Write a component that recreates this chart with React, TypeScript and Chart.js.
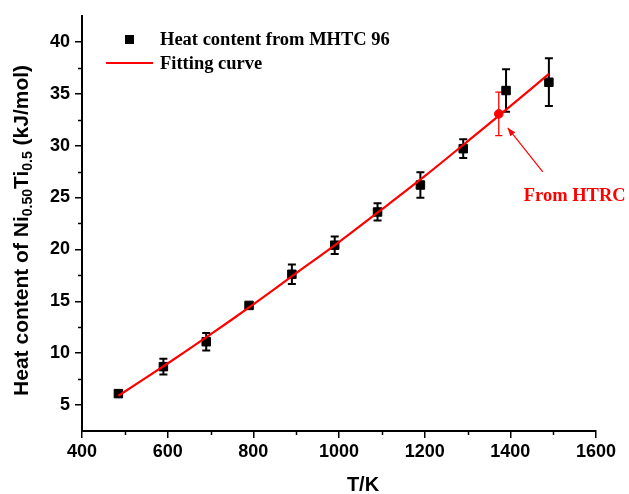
import React, { useEffect, useRef } from "react";
import { Chart, registerables } from "chart.js";
Chart.register(...registerables);

// Measured data (MHTC 96)
const temps = [485, 590, 690, 790, 890, 990, 1090, 1190, 1290, 1390, 1490];
const heat = [6.1, 8.7, 11.1, 14.6, 17.6, 20.4, 23.6, 26.2, 29.7, 35.3, 36.1];
const heatErr = [0.3, 0.75, 0.85, 0.2, 0.95, 0.85, 0.83, 1.23, 0.9, 2.05, 2.3];

// HTRC point
const htrcT = [1373];
const htrcH = [33.05];
const htrcErr = [2.1];

// Fitting curve
const fitT = [485, 600, 700, 800, 900, 1000, 1100, 1200, 1300, 1400, 1490];
const fitH = [5.9, 9.0, 11.8, 14.7, 17.7, 20.7, 23.85, 27.05, 30.4, 33.8, 36.9];

const xTicks = [400, 600, 800, 1000, 1200, 1400, 1600];
const yTicks = [5, 10, 15, 20, 25, 30, 35, 40];
const xMinor = [500, 700, 900, 1100, 1300, 1500];
const yMinor = [7.5, 12.5, 17.5, 22.5, 27.5, 32.5, 37.5];

const legendLabels = ["Heat content from MHTC 96", "Fitting curve"];
const annotationText = "From HTRC";

const SANS = "'Liberation Sans', Arial, sans-serif";
const SERIF = "'Liberation Serif', 'Times New Roman', serif";

export default function App() {
  const ref = useRef<HTMLCanvasElement>(null);

  useEffect(() => {
    document.body.style.margin = "0";
    const canvas = ref.current!;

    const plugin = {
      id: "custom",
      beforeDatasetsDraw(chart: any) {
        const { ctx, scales } = chart;
        const x = scales.x, y = scales.y;
        const drawErr = (xs: number[], ys: number[], es: number[], color: string, cap: number, lw: number) => {
          ctx.save();
          ctx.strokeStyle = color;
          ctx.lineWidth = lw;
          xs.forEach((t, i) => {
            const px = x.getPixelForValue(t);
            const top = y.getPixelForValue(ys[i] + es[i]);
            const bot = y.getPixelForValue(ys[i] - es[i]);
            ctx.beginPath();
            ctx.moveTo(px, top);
            ctx.lineTo(px, bot);
            ctx.moveTo(px - cap, top);
            ctx.lineTo(px + cap, top);
            ctx.moveTo(px - cap, bot);
            ctx.lineTo(px + cap, bot);
            ctx.stroke();
          });
          ctx.restore();
        };
        drawErr(temps, heat, heatErr, "#000", 4, 2);
        drawErr(htrcT, htrcH, htrcErr, "#ff0000", 3.5, 1.3);
      },
      afterDraw(chart: any) {
        const { ctx, scales, chartArea } = chart;
        const x = scales.x, y = scales.y;
        ctx.save();
        // minor ticks
        ctx.strokeStyle = "#000";
        ctx.lineWidth = 1.5;
        ctx.beginPath();
        xMinor.forEach((v) => {
          const px = Math.round(x.getPixelForValue(v)) + 0.5;
          ctx.moveTo(px, chartArea.bottom);
          ctx.lineTo(px, chartArea.bottom + 4);
        });
        yMinor.forEach((v) => {
          const py = Math.round(y.getPixelForValue(v)) + 0.5;
          ctx.moveTo(chartArea.left - 4, py);
          ctx.lineTo(chartArea.left, py);
        });
        ctx.stroke();

        // x title
        ctx.fillStyle = "#000";
        ctx.font = `bold 20px ${SANS}`;
        ctx.textAlign = "center";
        ctx.textBaseline = "middle";
        ctx.fillText("T/K", (chartArea.left + chartArea.right) / 2 + 24, 485);

        // y title with subscripts
        const parts: [string, boolean][] = [
          ["Heat content of Ni", false],
          ["0.50", true],
          ["Ti", false],
          ["0.5", true],
          [" (kJ/mol)", false],
        ];
        const bigFont = `bold 21px ${SANS}`;
        const smallFont = `bold 14px ${SANS}`;
        let total = 0;
        parts.forEach(([t, sub]) => {
          ctx.font = sub ? smallFont : bigFont;
          total += ctx.measureText(t).width;
        });
        ctx.save();
        ctx.translate(22, (chartArea.top + chartArea.bottom) / 2 + 7);
        ctx.rotate(-Math.PI / 2);
        ctx.textAlign = "left";
        ctx.textBaseline = "middle";
        let cx = -total / 2;
        parts.forEach(([t, sub]) => {
          ctx.font = sub ? smallFont : bigFont;
          ctx.fillText(t, cx, sub ? 6 : 0);
          cx += ctx.measureText(t).width;
        });
        ctx.restore();

        // legend
        const lx = chartArea.left;
        ctx.fillStyle = "#000";
        ctx.fillRect(lx + 43, 35, 9, 9);
        ctx.strokeStyle = "#ff0000";
        ctx.lineWidth = 2;
        ctx.beginPath();
        ctx.moveTo(lx + 24, 63);
        ctx.lineTo(lx + 71, 63);
        ctx.stroke();
        ctx.font = `bold 18.5px ${SERIF}`;
        ctx.textAlign = "left";
        ctx.textBaseline = "middle";
        ctx.fillStyle = "#000";
        ctx.fillText(legendLabels[0], lx + 78, 40);
        ctx.fillText(legendLabels[1], lx + 78, 64);

        // annotation arrow + text
        const hx = x.getPixelForValue(htrcT[0]);
        const hy = y.getPixelForValue(htrcH[0]);
        const tipX = hx + 9, tipY = hy + 14;
        const tailX = hx + 44, tailY = hy + 58;
        ctx.strokeStyle = "#ff0000";
        ctx.fillStyle = "#ff0000";
        ctx.lineWidth = 1.2;
        ctx.beginPath();
        ctx.moveTo(tailX, tailY);
        ctx.lineTo(tipX, tipY);
        ctx.stroke();
        const ang = Math.atan2(tipY - tailY, tipX - tailX);
        const hl = 8, hw = 3.2;
        ctx.beginPath();
        ctx.moveTo(tipX, tipY);
        ctx.lineTo(tipX - hl * Math.cos(ang) + hw * Math.sin(ang), tipY - hl * Math.sin(ang) - hw * Math.cos(ang));
        ctx.lineTo(tipX - hl * Math.cos(ang) - hw * Math.sin(ang), tipY - hl * Math.sin(ang) + hw * Math.cos(ang));
        ctx.closePath();
        ctx.fill();
        ctx.font = `bold 18.5px ${SERIF}`;
        ctx.textAlign = "left";
        ctx.fillText(annotationText, hx + 25, hy + 82);
        ctx.restore();
      },
    };

    const tickFont = { family: SANS, size: 18, weight: "bold" as const };

    const chart = new Chart(canvas, {
      type: "scatter",
      data: {
        datasets: [
          {
            label: legendLabels[1],
            type: "line",
            data: fitT.map((t, i) => ({ x: t, y: fitH[i] })),
            borderColor: "#ff0000",
            borderWidth: 2.2,
            pointRadius: 0,
            tension: 0.3,
            fill: false,
            order: 0,
          } as any,
          {
            label: annotationText,
            data: htrcT.map((t, i) => ({ x: t, y: htrcH[i] })),
            backgroundColor: "#ff0000",
            borderColor: "#ff0000",
            pointStyle: "circle",
            pointRadius: 4.3,
            order: 1,
          },
          {
            label: legendLabels[0],
            data: temps.map((t, i) => ({ x: t, y: heat[i] })),
            backgroundColor: "#000",
            borderColor: "#000",
            borderWidth: 1,
            pointStyle: "rect",
            pointRadius: 6,
            order: 2,
          },
        ],
      },
      options: {
        responsive: false,
        animation: false,
        layout: { padding: { top: 13, right: 33, left: 0, bottom: 0 } },
        plugins: { legend: { display: false }, tooltip: { enabled: false } },
        scales: {
          x: {
            type: "linear",
            min: 400,
            max: 1600,
            afterBuildTicks: (s: any) => {
              s.ticks = xTicks.map((v) => ({ value: v }));
            },
            afterFit: (s: any) => {
              s.height = 63;
            },
            ticks: {
              font: tickFont,
              color: "#000",
              padding: 3,
              maxRotation: 0,
              autoSkip: false,
              callback: (v: any) => String(v),
            },
            grid: { display: true, drawOnChartArea: false, drawTicks: true, tickLength: 7, color: "#000", lineWidth: 1.5 },
            border: { display: true, color: "#000", width: 2 },
          },
          y: {
            type: "linear",
            min: 2.5,
            max: 42.5,
            afterBuildTicks: (s: any) => {
              s.ticks = yTicks.map((v) => ({ value: v }));
            },
            afterFit: (s: any) => {
              s.width = 82;
            },
            ticks: { font: tickFont, color: "#000", padding: 5, autoSkip: false, callback: (v: any) => String(v) },
            grid: { display: true, drawOnChartArea: false, drawTicks: true, tickLength: 7, color: "#000", lineWidth: 1.5 },
            border: { display: true, color: "#000", width: 2 },
          },
        },
      },
      plugins: [plugin],
    });

    return () => chart.destroy();
  }, []);

  return <canvas ref={ref} width={629} height={494} style={{ display: "block" }} />;
}
